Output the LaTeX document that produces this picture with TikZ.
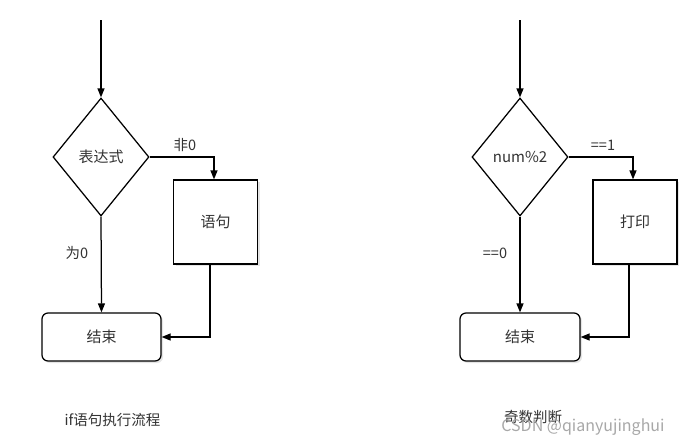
\documentclass[tikz,border=0pt]{standalone}
\usepackage{fontspec}
\setmainfont{Noto Sans CJK SC}
\usetikzlibrary{shapes.geometric,arrows.meta,shadows}
\begin{document}
\begin{tikzpicture}[x=1pt,y=-1pt,
  line width=1.25pt,
  every node/.style={font=\fontsize{15}{18}\selectfont, text=black!80},
  decision/.style={draw, shape=diamond, inner sep=0pt, minimum width=96pt, minimum height=118pt, aspect=0.8, fill=white},
  stepbox/.style={draw, rectangle, minimum width=84pt, minimum height=84pt, fill=white, drop shadow={opacity=0.2, shadow xshift=2pt, shadow yshift=-2pt}},
  endbox/.style={draw, rectangle, rounded corners=6pt, minimum width=119pt, minimum height=48pt, fill=white, drop shadow={opacity=0.2, shadow xshift=2pt, shadow yshift=-2pt}},
  arr/.style={draw, -{Triangle[length=9pt,width=7pt]}},
  lbl/.style={font=\fontsize{14.5}{17}\selectfont},
  captxt/.style={font=\fontsize{14.5}{17}\selectfont}
]
\useasboundingbox (0,0) rectangle (687,445);
\fill[white] (0,0) rectangle (687,445);

% left diagram
\coordinate (in1) at (101,20);
\node[decision] (d1) at (101,157) {表达式};
\node[stepbox] (s1) at (215.5,222) {语句};
\node[endbox] (e1) at (101.5,337) {结束};
\draw[arr] (in1) -- (d1.north);
\draw[arr] (d1.east) -| ([xshift=-1.5pt]s1.north);
\draw[arr] (d1.south) -- (e1.north);
\draw[arr] ([xshift=-5.5pt]s1.south) |- (e1.east);
\node[lbl] (l1) at (185,145) {非0};
\node[lbl] (l2) at (77,253) {为0};
\node[captxt] (c1) at (112.5,420) {if语句执行流程};

% right diagram
\coordinate (in2) at (520,20);
\node[decision] (d2) at (520,157) {num\%2};
\node[stepbox] (s2) at (635,222) {打印};
\node[endbox, minimum width=120pt] (e2) at (520,337) {结束};
\draw[arr] (in2) -- (d2.north);
\draw[arr] (d2.east) -| ([xshift=-2pt]s2.north);
\draw[arr] (d2.south) -- (e2.north);
\draw[arr] ([xshift=-6pt]s2.south) |- (e2.east);
\node[lbl] (l3) at (603,145) {==1};
\node[lbl] (l4) at (495,253) {==0};
\node[captxt] (c2) at (533,417) {奇数判断};
\node[font=\fontsize{16}{18}\selectfont, text=gray!75, opacity=0.9] (wm) at (583,427) {CSDN @qianyujinghui};
\end{tikzpicture}
\end{document}
